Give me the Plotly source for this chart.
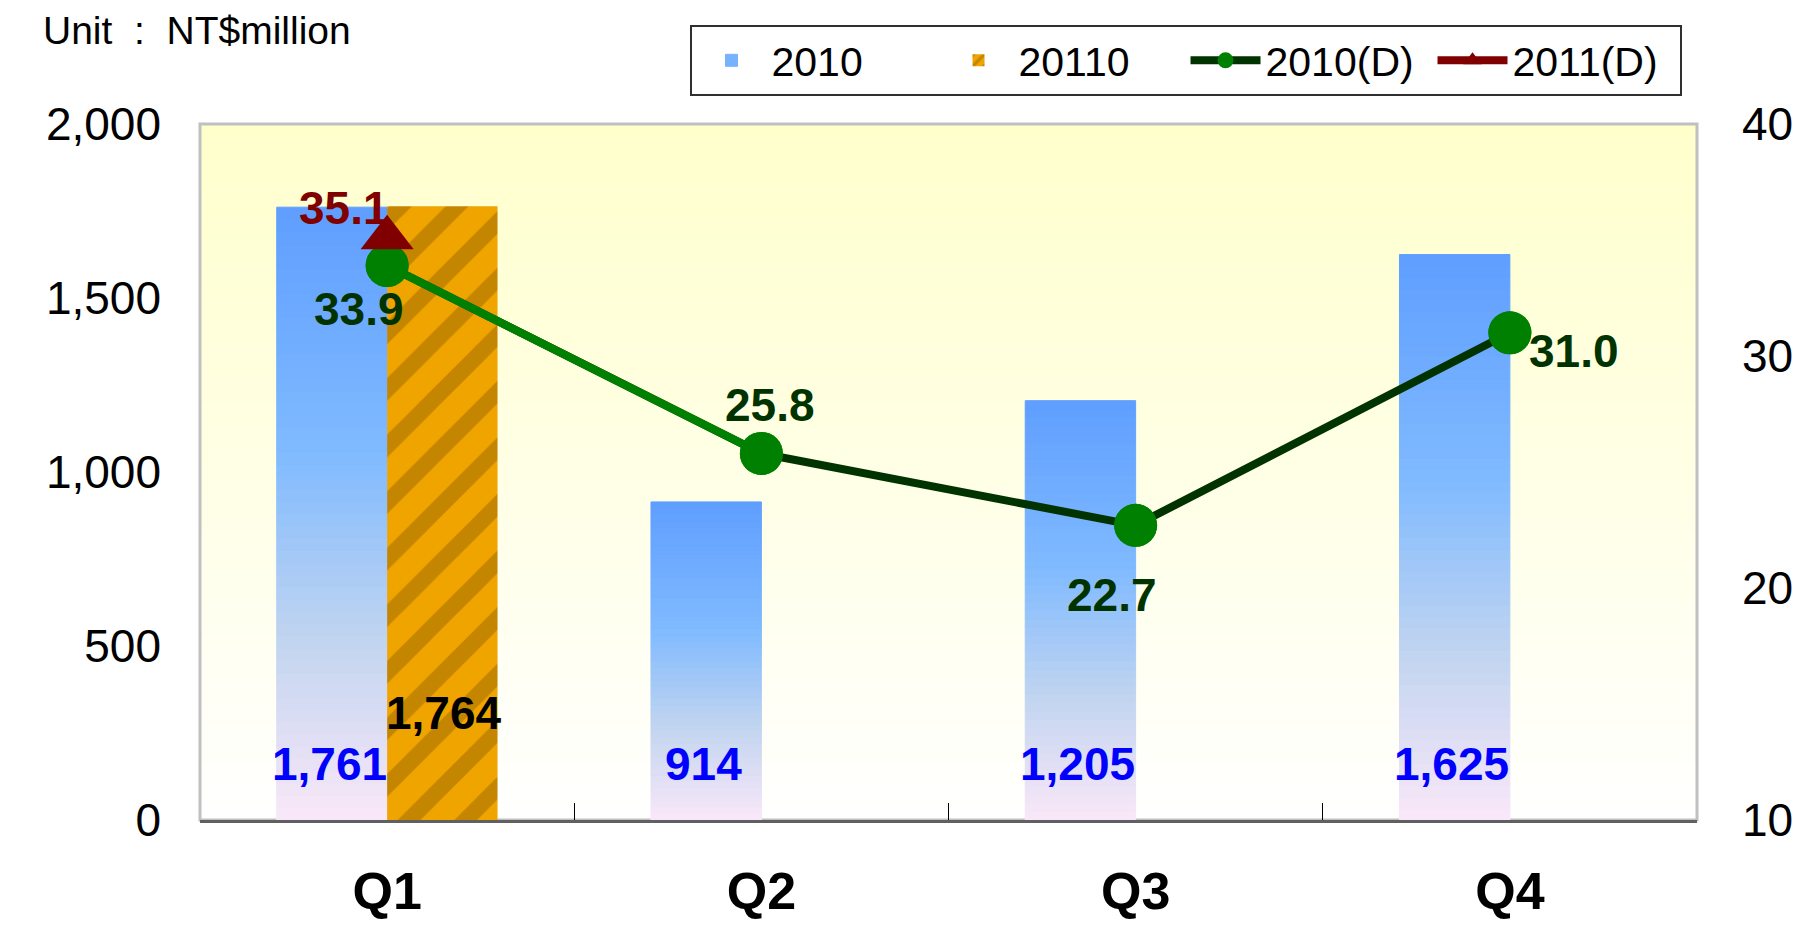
import plotly.graph_objects as go

# ---------------- data ----------------
quarters = ["Q1", "Q2", "Q3", "Q4"]
sales_2010 = [1761, 914, 1205, 1625]
sales_2011 = [1764, None, None, None]
d_2010 = [33.9, 25.8, 22.7, 31.0]
d_2011 = [35.1, None, None, None]
left_ticks = [0, 500, 1000, 1500, 2000]
right_ticks = [10, 20, 30, 40]

FONT = "Liberation Sans, Arial, sans-serif"

# gradient stops for the 2010 bars (fraction of bar height -> rgb)
stops = [(0.0, (250, 232, 248)), (0.3, (192, 212, 240)), (0.6, (128, 186, 255)), (1.0, (95, 158, 255))]


def grad_color(t):
    for (t0, c0), (t1, c1) in zip(stops[:-1], stops[1:]):
        if t0 <= t <= t1:
            f = (t - t0) / (t1 - t0)
            return "rgb(%d,%d,%d)" % tuple(round(a + (b - a) * f) for a, b in zip(c0, c1))
    return "rgb(%d,%d,%d)" % stops[-1][1]


fig = go.Figure()

# 2010 bars drawn as a vertical gradient: each bar split in K equal slices
K = 50
for k in range(K):
    frac = (k + 0.5) / K
    col = grad_color(frac)
    fig.add_trace(go.Bar(
        x=quarters,
        y=[v / K for v in sales_2010],
        base=[v * k / K for v in sales_2010],
        offsetgroup="a",
        marker=dict(color=col, line=dict(width=1, color=col)),
        name="2010",
        legendgroup="2010",
        showlegend=(k == int(K * 0.7)),
        hoverinfo="skip",
        yaxis="y",
    ))

fig.add_trace(go.Bar(
    x=quarters, y=sales_2011, offsetgroup="b", name="20110",
    marker=dict(color="#EFA400", line=dict(width=0),
                pattern=dict(shape="/", fgcolor="#9A6600", size=40, solidity=0.4, fillmode="overlay")),
    yaxis="y",
))

# 2010(D) line
fig.add_trace(go.Scatter(
    x=quarters, y=d_2010, name="2010(D)", mode="lines+markers", yaxis="y2",
    line=dict(color="#003300", width=8),
    marker=dict(color="#008000", size=43),
))
# first segment drawn in bright green
fig.add_trace(go.Scatter(
    x=quarters[:2], y=d_2010[:2], mode="lines", yaxis="y2", showlegend=False,
    line=dict(color="#008000", width=8), hoverinfo="skip",
))
fig.add_trace(go.Scatter(
    x=quarters, y=d_2010, mode="markers", yaxis="y2", showlegend=False,
    marker=dict(color="#008000", size=43), hoverinfo="skip",
))
# 2011(D)
fig.add_trace(go.Scatter(
    x=quarters, y=d_2011, name="2011(D)", mode="lines+markers", yaxis="y2",
    line=dict(color="#800000", width=8),
    marker=dict(color="#800000", size=46, symbol="triangle-up"),
))

# ---------------- annotations (labels) ----------------
ann = []
for q, v in zip(quarters, sales_2010):
    ann.append(dict(x=q, y=161, xref="x", yref="y", text=f"{v:,}", showarrow=False,
                    xshift=-58, font=dict(family=FONT, size=46, color="#0000FF", weight="bold")))
for q, v in zip(quarters, sales_2011):
    if v is not None:
        ann.append(dict(x=q, y=307, xref="x", yref="y", text=f"{v:,}", showarrow=False,
                        xshift=57, font=dict(family=FONT, size=46, color="#000000", weight="bold")))

d_offsets = [(-28, -43), (9, 48), (-24, -70), (64, -18)]
for q, v, (dx, dy) in zip(quarters, d_2010, d_offsets):
    ann.append(dict(x=q, y=v, xref="x", yref="y2", text=f"{v:.1f}", showarrow=False,
                    xshift=dx, yshift=dy, font=dict(family=FONT, size=46, color="#003300", weight="bold")))
for q, v in zip(quarters, d_2011):
    if v is not None:
        ann.append(dict(x=q, y=v, xref="x", yref="y2", text=f"{v:.1f}", showarrow=False,
                        xshift=-43, yshift=30, font=dict(family=FONT, size=46, color="#800000", weight="bold")))

ann.append(dict(x=-0.106, y=1.135, xref="paper", yref="paper", xanchor="left", yanchor="middle",
                text="Unit  :  NT$million", showarrow=False,
                font=dict(family=FONT, size=39, color="#000000")))

# ---------------- background gradient (styling only) ----------------
shapes = []
N = 60
for i in range(N):
    b = round(255 - 51 * ((i + 0.5) / N))
    shapes.append(dict(type="rect", xref="x domain", yref="y domain", x0=0, x1=1,
                       y0=i / N, y1=(i + 1) / N, line=dict(width=1, color=f"rgb(255,255,{b})"),
                       fillcolor=f"rgb(255,255,{b})", layer="below"))
shapes.append(dict(type="rect", xref="x domain", yref="y domain", x0=0, x1=1, y0=0, y1=1,
                   line=dict(color="#C0C0C0", width=3), layer="below"))

fig.update_layout(
    width=1803, height=927,
    margin=dict(l=200, r=106, t=124, b=107, autoexpand=False),
    paper_bgcolor="white", plot_bgcolor="white",
    barmode="group", bargap=0.41, bargroupgap=0,
    font=dict(family=FONT, color="#000000"),
    showlegend=True,
    legend=dict(orientation="h", x=0.327, y=1.142, xanchor="left", yanchor="top",
                bordercolor="#303030", borderwidth=2, bgcolor="white",
                font=dict(family=FONT, size=41), itemwidth=70, itemsizing="trace",
                traceorder="normal", entrywidth=162),
    annotations=ann,
    shapes=shapes,
    xaxis=dict(type="category", categoryorder="array", categoryarray=quarters,
               showline=True, linecolor="#606060", linewidth=3,
               ticks="inside", tickson="boundaries", ticklen=17, tickcolor="#000000", tickwidth=1,
               tickfont=dict(family=FONT, size=52, weight="bold"), ticklabelstandoff=24,
               showgrid=False, zeroline=False),
    yaxis=dict(range=[0, 2000], tickvals=left_ticks, tickformat=",", showgrid=False, zeroline=False,
               showline=False, ticks="", ticklabelstandoff=38,
               tickfont=dict(family=FONT, size=46)),
    yaxis2=dict(range=[10, 40], tickvals=right_ticks, overlaying="y", side="right", showgrid=False,
                zeroline=False, showline=False, ticks="", ticklabelstandoff=44,
                tickfont=dict(family=FONT, size=46)),
)

fig.write_html("out.html", config={"displayModeBar": False},
               post_script="document.body.style.margin='0';document.body.style.overflow='hidden';")
